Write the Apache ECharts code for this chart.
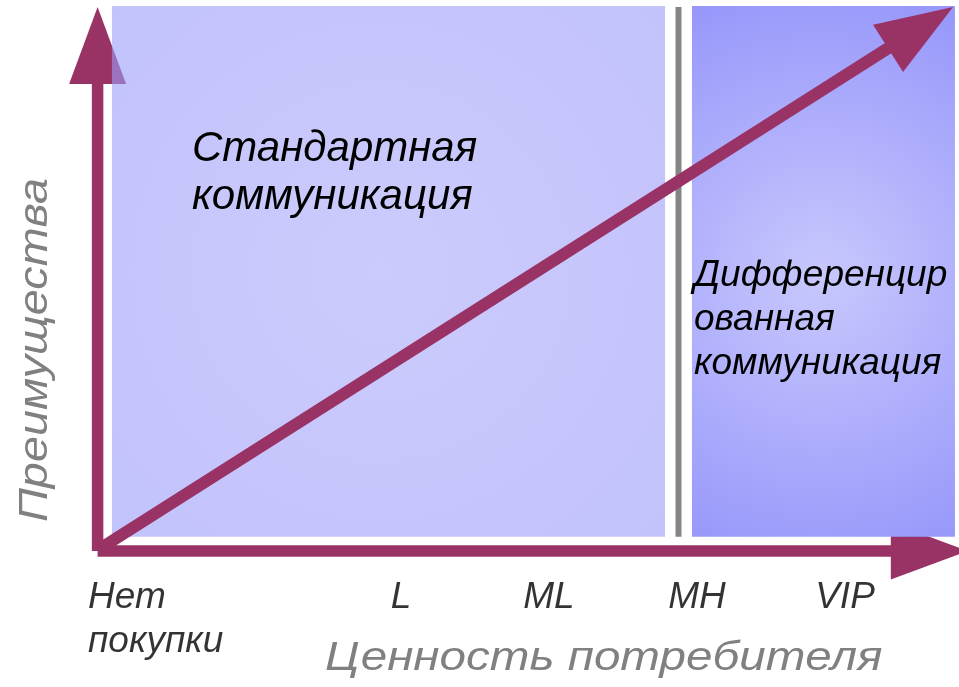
<!DOCTYPE html>
<html><head><meta charset="utf-8">
<script src="https://cdn.jsdelivr.net/npm/echarts@6/dist/echarts.min.js"></script>
<style>html,body{margin:0;padding:0;background:#fff}#c{width:959px;height:687px}</style>
</head><body><div id="c"></div>
<script>
// ---- data (conceptual units: x = customer value, y = benefits) ----
const tickValues = [0, 2, 3, 4, 5];
const tickLabels = ['Нет\nпокупки', 'L', 'ML', 'MH', 'VIP'];
const xAxisTitle = 'Ценность потребителя';
const yAxisTitle = 'Преимущества';
const zoneNames = ['Стандартная\nкоммуникация', 'Дифференцир\nованная\nкоммуникация'];
// [xStart, xEnd, yStart, yEnd]
const zoneStandard = [0.047, 3.784, 0.26, 10.02];
const zoneDifferentiated = [3.966, 5.743, 0.26, 10.02];
const divider = [3.875, 0.26, 3.875, 10.0];
// arrows [x0, y0, x1, y1]
const valueAxisArrow = [-0.05, 0, 5.83, 0];
const benefitAxisArrow = [-0.05, 0, -0.05, 10];
const trendArrow = [-0.027, 0.055, 5.73, 10];

// ---- styles ----
const ARROW = '#993366';
const FONT = '"Liberation Sans", Arial, sans-serif';

function arrowRender(shaftW, headLen, headHalf) {
  return function (params, api) {
    const p0 = api.coord([api.value(0), api.value(1)]);
    const p1 = api.coord([api.value(2), api.value(3)]);
    const dx = p1[0] - p0[0], dy = p1[1] - p0[1];
    const L = Math.hypot(dx, dy), ux = dx / L, uy = dy / L;
    const nx = -uy, ny = ux;
    const bx = p1[0] - ux * headLen, by = p1[1] - uy * headLen;
    return {
      type: 'group', children: [
        { type: 'line', shape: { x1: p0[0], y1: p0[1], x2: bx + ux * 3, y2: by + uy * 3 },
          style: { stroke: ARROW, lineWidth: shaftW, lineCap: 'butt' } },
        { type: 'polygon', shape: { points: [[p1[0], p1[1]], [bx + nx * headHalf, by + ny * headHalf], [bx - nx * headHalf, by - ny * headHalf]] },
          style: { fill: ARROW } }
      ]
    };
  };
}

const zoneFills = [
  new echarts.graphic.RadialGradient(0.485, 0.5, 0.75, [
    { offset: 0, color: 'rgba(168,168,250,0.6)' }, { offset: 1, color: 'rgba(154,154,250,0.6)' }]),
  new echarts.graphic.RadialGradient(0.49, 0.51, 1.1, [
    { offset: 0, color: '#c8c8fd' }, { offset: 1, color: '#9898fb' }])
];

const chart = echarts.init(document.getElementById('c'), null, { renderer: 'canvas' });
chart.setOption({
  animation: false,
  grid: { left: 105, top: 7, width: 740, height: 544 },
  xAxis: { type: 'value', min: 0, max: 5, show: false },
  yAxis: { type: 'value', min: 0, max: 10, show: false },
  series: [
    { type: 'custom', clip: false, z: 1, renderItem: arrowRender(11.5, 77, 28.5),
      data: [benefitAxisArrow, valueAxisArrow] },
    { type: 'custom', clip: false, z: 2,
      renderItem: function (params, api) {
        const a = api.coord([api.value(0), api.value(3)]);
        const b = api.coord([api.value(1), api.value(2)]);
        return { type: 'rect', shape: { x: a[0], y: a[1], width: b[0] - a[0], height: b[1] - a[1] },
          style: { fill: zoneFills[params.dataIndex] } };
      },
      data: [zoneStandard, zoneDifferentiated] },
    { type: 'custom', clip: false, z: 3,
      renderItem: function (params, api) {
        const p0 = api.coord([api.value(0), api.value(1)]);
        const p1 = api.coord([api.value(2), api.value(3)]);
        return { type: 'line', shape: { x1: p0[0], y1: p0[1], x2: p1[0], y2: p1[1] },
          style: { stroke: '#858585', lineWidth: 6 } };
      },
      data: [divider] },
    { type: 'custom', clip: false, z: 4, renderItem: arrowRender(12, 77, 28),
      data: [trendArrow] },
    { type: 'scatter', z: 5, symbolSize: 0, clip: false, silent: true,
      data: tickValues.map((v, i) => ({
        value: [v, 0],
        label: {
          show: true, position: 'inside', formatter: tickLabels[i],
          align: i === 0 ? 'left' : 'center', verticalAlign: 'top',
          offset: [i === 0 ? -17 : 0, 25],
          fontFamily: FONT, fontStyle: 'italic', fontSize: 37, lineHeight: 44, color: '#000'
        }
      })) }
  ],
  graphic: [
    { type: 'text', left: 192, top: 125, z: 10, silent: true,
      style: { text: zoneNames[0], font: 'italic 42px ' + FONT, lineHeight: 48, fill: '#000' } },
    { type: 'text', left: 694, top: 254, z: 10, silent: true,
      style: { text: zoneNames[1], font: 'italic 37px ' + FONT, lineHeight: 44, fill: '#000' } },
    { type: 'text', x: 325, y: 659, scaleX: 1.19, z: 10, silent: true,
      style: { text: xAxisTitle, font: 'italic 40px ' + FONT, fill: '#808080', verticalAlign: 'middle', align: 'left' } },
    { type: 'text', x: 36, y: 350, scaleX: 1.17, rotation: Math.PI / 2, z: 10, silent: true,
      style: { text: yAxisTitle, font: 'italic 40px ' + FONT, fill: '#808080', verticalAlign: 'middle', align: 'center' } }
  ]
});
</script>
</body></html>
